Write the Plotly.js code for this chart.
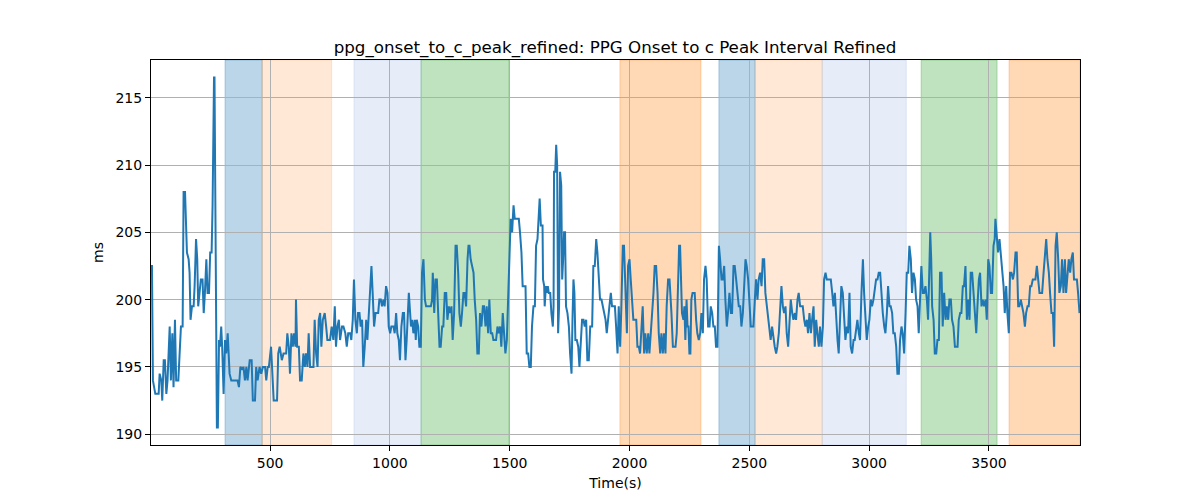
<!DOCTYPE html>
<html>
<head>
<meta charset="utf-8">
<script src="https://cdn.plot.ly/plotly-3.0.1.min.js"></script>
<style>
  body { margin: 0; background: #fff; }
  #graph { width: 1200px; height: 500px; }
</style>
</head>
<body>
<div id="graph"></div>
<script>
// values
var timeSec = [
    3, 7, 11, 17, 21, 35, 39, 46, 50, 56, 61, 67, 72, 81, 86, 92, 97, 103, 108, 117,
    122, 128, 135, 139, 145, 149, 153, 160, 164, 168, 174, 181, 185, 191, 196, 200, 206, 211, 218, 223,
    228, 234, 239, 245, 250, 256, 260, 263, 266, 268, 271, 274, 278, 282, 287, 291, 296, 300, 306, 312,
    317, 323, 328, 331, 338, 364, 370, 376, 384, 389, 395, 401, 406, 415, 423, 428, 437, 442, 448, 456,
    463, 470, 479, 484, 490, 495, 504, 509, 515, 529, 534, 540,
    549, 556, 567, 572, 578, 583, 589, 595, 600, 606, 608, 613, 620, 625, 632, 639, 645, 650, 656, 661,
    667, 672, 681, 686, 692, 698, 703, 709, 714, 720, 728, 734, 739, 750, 757, 764, 770, 775, 781, 787,
    792, 800, 806, 814, 820, 826, 834, 839, 845, 850, 856, 862, 867, 873, 878, 884, 889, 895, 901, 906,
    912, 917, 923, 928, 934, 940, 945, 951, 956, 962, 967, 973, 978, 984, 990, 995, 1001, 1006, 1015, 1020,
    1026, 1031, 1037, 1042, 1048, 1054, 1059, 1065, 1070, 1076, 1079,
    1088, 1093, 1098, 1104, 1108, 1112, 1118, 1123, 1129, 1134, 1140, 1146, 1151, 1162, 1171, 1176, 1179, 1185, 1190, 1196,
    1201, 1207, 1212, 1218, 1223, 1229, 1235, 1240, 1246, 1251, 1257, 1262, 1268, 1274, 1279, 1285, 1290, 1296, 1301, 1307,
    1312, 1318, 1324, 1328, 1332, 1337, 1343, 1349, 1354, 1360, 1365, 1371, 1376, 1382, 1388, 1393, 1399, 1404, 1410, 1415,
    1421, 1427, 1432, 1438, 1443, 1449, 1454, 1460, 1465, 1471, 1477, 1482, 1488, 1493, 1499, 1504, 1510, 1516, 1521, 1527,
    1532, 1538, 1543, 1549, 1554, 1560, 1566, 1571, 1577, 1582, 1588, 1593, 1599, 1605, 1610, 1616, 1621, 1625, 1630,
    1632, 1637, 1639, 1644, 1646, 1651, 1655, 1659, 1663, 1669, 1674, 1680, 1683, 1685, 1690, 1694, 1698, 1702, 1706, 1710,
    1715, 1719, 1723, 1727, 1731, 1735, 1741, 1747, 1752, 1758, 1762, 1766, 1770, 1774, 1780, 1786, 1791, 1797, 1802, 1808,
    1813, 1819, 1824, 1830, 1836, 1844, 1849, 1855, 1861, 1866, 1872, 1877, 1883, 1888, 1894, 1900, 1905, 1911, 1916, 1922,
    1927, 1933, 1939, 1944, 1950, 1955, 1961, 1966, 1972, 1977, 1983, 1989, 1994, 2000, 2005, 2011, 2016, 2022, 2028, 2033,
    2039, 2044, 2050, 2055, 2061, 2066, 2072, 2078, 2083, 2089, 2094, 2100, 2105, 2111, 2117, 2122, 2128, 2133, 2139, 2144,
    2150, 2155, 2161, 2167,
    2175, 2181, 2186, 2192, 2197, 2203, 2207, 2211, 2215, 2219, 2225, 2229, 2233, 2238, 2242, 2246, 2250, 2254, 2258, 2263,
    2267, 2272, 2278, 2283, 2289, 2295, 2300, 2306, 2311, 2317, 2322, 2328, 2334, 2339, 2345, 2350, 2356, 2361, 2367, 2373,
    2378, 2384, 2389, 2395, 2400, 2406, 2411, 2417, 2423, 2428, 2434, 2439, 2445, 2450, 2456, 2462, 2467, 2473, 2478, 2484,
    2489, 2495, 2500, 2506, 2512, 2517, 2523, 2528, 2534, 2539, 2545, 2551, 2556, 2562, 2567, 2573, 2578, 2584, 2589, 2595,
    2601, 2606, 2612, 2617, 2623, 2628, 2634, 2640, 2645, 2651, 2656, 2662, 2667, 2673, 2679, 2684, 2690, 2695, 2701, 2706,
    2712, 2717, 2723,
    2729, 2734, 2740, 2745, 2751, 2757, 2762, 2768, 2773, 2779, 2784, 2790, 2795, 2801, 2807, 2812, 2818, 2823, 2829, 2834,
    2840, 2846, 2851, 2857, 2862, 2868, 2873, 2879, 2884, 2890, 2896, 2901, 2907, 2912, 2918, 2923, 2929, 2935, 2940, 2946,
    2951, 2957, 2962, 2968, 2974, 2979, 2985, 2990, 2996, 3001, 3007, 3012, 3018, 3024, 3029, 3035, 3040, 3046, 3051, 3057,
    3063, 3068, 3074, 3079, 3085, 3090, 3096, 3101, 3107, 3113, 3118, 3124, 3129, 3135, 3140, 3146, 3152, 3157, 3163, 3168,
    3174, 3179, 3185, 3191, 3196, 3202, 3207, 3213, 3218, 3224, 3229, 3235, 3241, 3246,
    3255, 3259, 3263, 3269, 3274, 3280, 3285, 3291, 3296, 3302, 3307, 3313, 3319, 3324, 3330, 3335, 3341, 3346, 3352, 3358,
    3363, 3369, 3374, 3380, 3385, 3391, 3396, 3402, 3408, 3413, 3419, 3424, 3430, 3435, 3441, 3447, 3452, 3458, 3463, 3469,
    3474, 3480, 3486, 3491, 3497, 3502, 3508, 3513, 3519, 3524, 3527, 3533, 3538, 3544, 3549, 3555, 3561, 3566, 3572, 3577,
    3583, 3588, 3594, 3600, 3605, 3611, 3616, 3622, 3627, 3633, 3639, 3644, 3650, 3655, 3661, 3666, 3672, 3677, 3683, 3689,
    3694, 3700, 3705, 3711, 3716, 3722, 3728, 3733, 3739, 3744, 3750, 3755, 3761, 3767, 3772, 3778, 3783, 3789, 3794, 3800,
    3805, 3811, 3817, 3822, 3828, 3833, 3839, 3844, 3850, 3855, 3861, 3867, 3872, 3878
];
var intervalMs = [
    202.5, 202.5, 194, 193.5, 193, 193, 194.5, 194, 192.5, 195.5, 195.5, 193, 194, 198, 194, 197.5, 193.5, 198.5, 194, 194,
    196, 198, 198, 208, 208, 206, 203.5, 203, 202, 198.5, 199.5, 199.5, 201, 204.5, 203, 199.5, 200.5, 201.5, 201.5, 199,
    200.5, 203, 200.5, 200.5, 203.5, 203.5, 207, 214, 216.5, 216.5, 205.5, 203, 190.5, 190.5, 197, 196.5, 198, 196.5, 193, 197,
    196, 197.5, 196, 194.5, 194, 194, 193.5, 195, 194.8, 195, 194, 195, 194, 195.5, 195.5, 192.5, 192.5, 195, 194, 195,
    194.5, 195, 195, 194, 195, 195, 196.5, 195, 192.5, 192.5, 196, 196.5,
    195.5, 196, 196, 197.5, 196.5, 194.5, 197.5, 196.5, 197.5, 196.5, 200, 196.5, 196.5, 194, 194, 196, 195, 196, 195, 197.5,
    195, 195, 195, 198.5, 196, 195, 198.5, 199, 196.5, 198.5, 199, 198, 197, 197, 198, 197, 199.5, 196.5, 198, 198.5,
    197, 198, 198, 197.5, 196.5, 197.5, 197.5, 197, 198.5, 201.5, 198.5, 197.5, 199, 199, 198, 198.5, 195, 196.5, 198.5, 197,
    199, 200, 202.5, 200.5, 198, 199, 199, 199, 200, 200, 199.5, 200, 199.5, 201, 200.5, 198, 197.5, 198, 198, 197.5,
    199, 197.5, 197, 195.5, 198, 199, 199, 195.5, 197, 200.5, 200.5,
    198, 198.5, 197.5, 198.5, 197, 198.5, 198, 196.5, 196.5, 202, 203, 200, 199.5, 199.5, 199.5, 200, 202, 199, 201.5, 201.5,
    199, 196.5, 196.5, 198, 198, 200.5, 200.5, 198.5, 199.5, 199, 199.5, 197, 199, 204, 204, 202, 199, 198, 199, 200.5,
    200.5, 199.5, 203, 204, 204, 203, 202.5, 202, 200, 198.5, 196, 196, 199, 198, 199.5, 199.5, 198, 199.5, 197.5, 200,
    197.5, 197.5, 197, 197, 197, 198, 197.5, 198, 196.5, 199, 197, 196, 197, 199.5, 203, 206, 205, 207, 206, 206,
    206, 206, 205, 203.5, 201, 201, 201, 196, 196, 195, 195, 198, 199.5, 199.5, 204, 204.5, 206, 207.5, 205.5,
    205.5, 205.5, 201.5, 201, 199.5, 201, 200.5, 201, 200.5, 200.5, 199, 198, 199.5, 209.5, 209.5, 211.5, 210, 197.5, 199.5, 209.5,
    208.5, 201.5, 203, 205, 205, 199.5, 199, 198, 196, 194.5, 198.5, 201.5, 200.5, 197, 197, 196.5, 195, 196.5, 198.5, 198.5,
    198, 198.5, 195.5, 195.5, 198, 198, 202.5, 202.5, 204.5, 203.5, 202, 200, 200, 199.5, 199, 198.5, 197.5, 199, 199.5, 200.5,
    199.5, 199.5, 199.5, 198, 196, 199.5, 196.5, 199.5, 204, 204, 200.5, 197.5, 202.5, 203, 201.5, 199.5, 198.5, 198.5, 198.5, 196.5,
    196.5, 196, 197.5, 199.5, 196, 197.5, 196, 197.5, 196, 197.5, 198.5, 200.5, 202.5, 202.5, 200.5, 197.5, 196, 197.5, 196, 197.5,
    196, 199.5, 201.5, 201.5,
    199, 196.5, 196.5, 196.5, 197.5, 202.5, 204, 204, 201.5, 199, 198.5, 199.5, 197, 200, 198, 198, 196, 196, 200, 200.5,
    200.5, 200.5, 198.5, 197.5, 197, 197.5, 199, 197.5, 201.5, 202.5, 201.5, 198, 198, 199.5, 199, 198, 198, 196.5, 196.5, 204,
    203, 201.5, 201.5, 202.5, 200, 198, 199, 200.5, 199, 199, 202.5, 202.5, 201.5, 200.5, 199.5, 199.5, 198, 199, 201, 203,
    202.5, 201.5, 200, 198, 198, 198, 200, 201.5, 200, 201.5, 202, 201, 203, 203, 200.5, 199.5, 199, 198, 197, 198,
    197, 196.5, 196, 196.5, 197.5, 199.5, 201, 199.5, 199, 199.5, 197.5, 196.5, 198, 200, 199, 198.5, 199, 198.5, 200, 200.5,
    199.5, 199.5, 199.5,
    198.5, 198, 198.5, 197.5, 199, 197.5, 198.5, 199.5, 196.5, 198.5, 197.5, 196.5, 198, 196.5, 198, 201.5, 202, 201.5, 201.5, 201.5,
    201.5, 200.5, 199.5, 200.5, 198.5, 197, 196, 199.5, 201, 200.5, 198, 197, 198, 197.5, 200.5, 196.5, 196, 197, 197, 198,
    198.5, 197.5, 197, 200.5, 203, 200.5, 198, 197, 198, 198.5, 200, 199.5, 200, 201, 201.5, 201.5, 202, 202, 200.5, 199,
    198, 197.5, 199, 201, 199.5, 199.5, 199, 197.5, 197.5, 196.5, 194.5, 194.5, 197, 198, 197.5, 196, 199, 202, 202, 204,
    203, 200.5, 202, 201.5, 200, 199.5, 197.5, 200, 202.5, 200.5, 200.5, 201, 200, 198.5,
    205, 203, 199.5, 198.5, 196, 196, 197, 197, 202, 202, 198, 200.5, 198.5, 199.5, 198.5, 200, 200, 198.5, 198, 196.5,
    196.5, 196.5, 198.5, 199, 199, 201, 201, 202.5, 198.5, 200, 198.5, 202, 202, 200.5, 198.5, 197.5, 199.5, 201.5, 202, 199.5,
    200, 199.5, 200, 198.5, 203, 202.5, 200.5, 200.5, 204, 204.5, 206, 204.5, 203.5, 204.5, 203.5, 202.5, 201, 199, 201, 199,
    197.5, 202, 202, 201.5, 202, 203.5, 203.5, 199.5, 199.5, 200, 199.5, 199, 198, 199, 199.5, 199.5, 201, 201, 201.5, 201.5,
    201.5, 202.5, 201.5, 200.5, 200.5, 200.5, 202, 203, 204.5, 203, 202, 200.5, 199, 199, 196.5, 204, 205, 203, 200.5, 201,
    203, 200.5, 203, 200.5, 202, 203, 202, 203, 203.5, 201.5, 201.5, 201.5, 200.5, 199
];

// shaded sections (start, end in seconds) and which colour each uses
var spanStart = [312, 467, 850, 1130, 1960, 2373, 2524, 2804, 3217, 3584];
var spanEnd   = [467, 757, 1130, 1497, 2298, 2524, 2804, 3155, 3534, 3880];
var spanKind  = [0, 1, 2, 3, 4, 0, 1, 2, 3, 4];
var spanColors = [
    'rgba(31,119,180,0.3)',
    'rgba(255,127,14,0.17)',
    'rgba(100,140,210,0.16)',
    'rgba(44,160,44,0.3)',
    'rgba(255,127,14,0.3)'
];

var xTicks = [500, 1000, 1500, 2000, 2500, 3000, 3500];
var yTicks = [190, 195, 200, 205, 210, 215];

function makeShapes() {
    var shapes = [];
    for (var i = 0; i < spanStart.length; i++) {
        var c = spanColors[spanKind[i]];
        shapes.push({
            type: 'rect',
            xref: 'x', yref: 'paper',
            x0: spanStart[i], x1: spanEnd[i],
            y0: 0, y1: 1,
            fillcolor: c,
            line: { color: c, width: 1 },
            layer: 'below'
        });
    }
    return shapes;
}

var trace = {
    x: timeSec,
    y: intervalMs,
    mode: 'lines',
    type: 'scatter',
    line: { color: '#1f77b4', width: 2 },
    hoverinfo: 'x+y'
};

var axisStyle = {
    showline: true,
    mirror: true,
    linecolor: 'black',
    linewidth: 1,
    ticks: 'outside',
    ticklen: 5,
    tickwidth: 1,
    tickcolor: 'black',
    showgrid: true,
    gridcolor: '#b0b0b0',
    gridwidth: 1,
    zeroline: false,
    tickfont: { family: 'DejaVu Sans', size: 14, color: 'black' }
};

var layout = {
    width: 1200,
    height: 500,
    margin: { l: 151, r: 120, t: 60, b: 55, pad: 0 },
    paper_bgcolor: 'white',
    plot_bgcolor: 'white',
    showlegend: false,
    font: { family: 'DejaVu Sans', color: 'black' },
    title: {
        text: 'ppg_onset_to_c_peak_refined: PPG Onset to c Peak Interval Refined',
        font: { family: 'DejaVu Sans', size: 16.7, color: 'black' },
        x: 0.5125, xanchor: 'center',
        y: 0.906, yanchor: 'middle'
    },
    xaxis: Object.assign({}, axisStyle, {
        range: [3, 3880],
        tickvals: xTicks,
        title: { text: 'Time(s)', font: { family: 'DejaVu Sans', size: 14 }, standoff: 8 }
    }),
    yaxis: Object.assign({}, axisStyle, {
        range: [189.2, 217.8],
        tickvals: yTicks,
        title: { text: 'ms', font: { family: 'DejaVu Sans', size: 14 }, standoff: 8 }
    }),
    shapes: makeShapes()
};

Plotly.newPlot('graph', [trace], layout, { displayModeBar: false, staticPlot: true });
</script>
</body>
</html>
